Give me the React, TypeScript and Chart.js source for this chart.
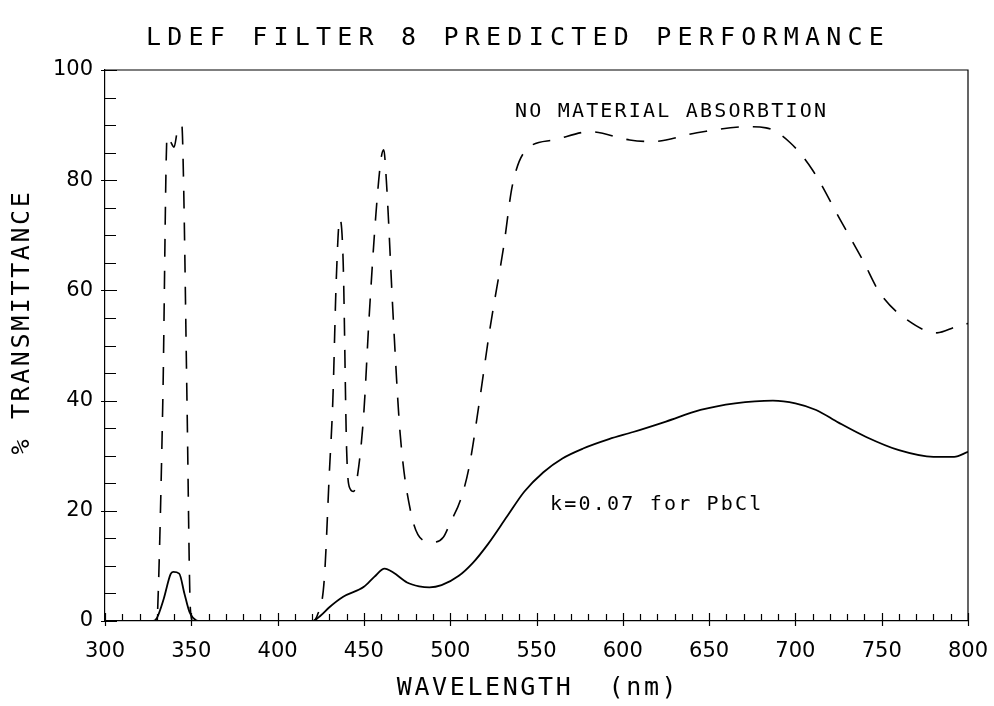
import React, { useEffect, useRef } from "react";
import { Chart, registerables } from "chart.js";

Chart.register(...registerables);

const TITLE = "LDEF FILTER 8 PREDICTED PERFORMANCE";
const X_TITLE = "WAVELENGTH  (nm)";
const Y_TITLE = "% TRANSMITTANCE";
const LABEL_DASHED = "NO MATERIAL ABSORBTION";
const LABEL_SOLID = "k=0.07 for PbCl";

const X_MIN = 300;
const X_MAX = 800;
const X_STEP = 50;
const X_MINOR = 10;
const Y_MIN = 0;
const Y_MAX = 100;
const Y_STEP = 20;
const Y_MINOR = 5;

// Dashed curve: no material absorption
const dashedWavelengths = [
  300, 330, 330.5, 333.5, 336, 338, 340, 342, 344.5, 345.5, 347.5, 349.5, 351,
  420, 423, 427, 430, 432, 434, 436, 438, 440, 442, 444, 447, 450, 453, 457, 460, 461.5,
  463, 467, 471, 477, 484, 490, 496, 500, 506, 511, 517, 523, 531, 536, 544, 560, 581,
  604, 617, 643, 672, 683, 697, 710, 726, 739, 749, 765, 782, 793, 800,
];
const dashedValues = [
  0, 0, 2, 40, 88, 87, 86, 89, 90, 80, 40, 2, 0,
  0, 1, 7.4, 27, 40, 62, 73, 65, 31, 24, 23.5, 28, 38, 55, 74, 84, 85.5,
  80, 55, 34, 20, 14.7, 14.3, 15.2, 17.8, 22, 28, 40, 53, 68, 79, 85.5, 87.3, 88.8,
  87.3, 87, 88.6, 89.7, 89.5, 86.8, 81.8, 72.8, 65.5, 59.5, 54.6, 52.3, 53.4, 54,
];

// Solid curve: k=0.07 for PbCl
const solidWavelengths = [
  300, 328, 330, 334, 338, 339.5, 343, 346, 349, 353, 355,
  420, 425, 430, 438, 450, 456, 462, 467, 475, 482, 488, 495, 505, 513, 522, 533, 543,
  554, 565, 577, 592, 606, 625, 645, 665, 687, 700, 712, 725, 741, 760, 780, 792, 800,
];
const solidValues = [
  0, 0, 0.5, 4, 8.5, 8.9, 8.6, 5, 1.6, 0.1, 0,
  0, 1, 2.5, 4.4, 6.2, 8, 9.5, 8.8, 7, 6.3, 6.1, 6.5, 8.2, 10.5, 14, 19, 23.5,
  27, 29.5, 31.3, 33, 34.3, 36.2, 38.3, 39.5, 40, 39.5, 38.3, 36, 33.4, 31, 29.8, 29.8, 30.7,
];

const toPoints = (xs: number[], ys: number[]) => xs.map((x, i) => ({ x, y: ys[i] }));

const MONO = '"DejaVu Sans Mono", monospace';

const decorPlugin = {
  id: "decor",
  afterDraw(chart: any) {
    const { ctx, chartArea, scales } = chart;
    const xs = scales.x;
    const ys = scales.y;
    const { left, right, top, bottom } = chartArea;
    ctx.save();
    ctx.strokeStyle = "#000";
    ctx.lineWidth = 1.2;
    // top and right frame
    ctx.beginPath();
    ctx.moveTo(left, top);
    ctx.lineTo(right, top);
    ctx.lineTo(right, bottom);
    ctx.stroke();
    // x ticks (inward minor, crossing major)
    ctx.beginPath();
    for (let v = X_MIN; v <= X_MAX; v += X_MINOR) {
      const px = Math.round(xs.getPixelForValue(v)) + 0.5;
      const major = v % X_STEP === 0;
      ctx.moveTo(px, bottom + (major ? 5 : 0));
      ctx.lineTo(px, bottom - (major ? 8 : 7));
    }
    // y ticks
    for (let v = Y_MIN; v <= Y_MAX; v += Y_MINOR) {
      const py = Math.round(ys.getPixelForValue(v)) + 0.5;
      const major = v % Y_STEP === 0;
      ctx.moveTo(left - (major ? 4 : 0), py);
      ctx.lineTo(left + (major ? 12 : 11), py);
    }
    ctx.stroke();

    ctx.fillStyle = "#000";
    ctx.textBaseline = "middle";
    ctx.textAlign = "center";
    // title
    ctx.font = `25px ${MONO}`;
    (ctx as any).letterSpacing = "6.2px";
    ctx.fillText(TITLE, 518, 38);
    // x title
    ctx.font = `25px ${MONO}`;
    (ctx as any).letterSpacing = "2.6px";
    ctx.fillText(X_TITLE, 538, 688);
    // y title
    ctx.save();
    ctx.translate(22, 322);
    ctx.rotate(-Math.PI / 2);
    ctx.fillText(Y_TITLE, 0, 0);
    ctx.restore();
    // annotations
    ctx.font = `20px ${MONO}`;
    (ctx as any).letterSpacing = "2.2px";
    ctx.textAlign = "left";
    ctx.fillText(LABEL_DASHED, xs.getPixelForValue(537.5), ys.getPixelForValue(92.4));
    ctx.fillText(LABEL_SOLID, xs.getPixelForValue(557.8), ys.getPixelForValue(21));
    ctx.restore();
  },
};

export default function App() {
  const ref = useRef<HTMLCanvasElement | null>(null);
  useEffect(() => {
    if (!ref.current) return;
    const chart = new Chart(ref.current, {
      type: "line",
      data: {
        datasets: [
          {
            label: LABEL_DASHED,
            data: toPoints(dashedWavelengths, dashedValues),
            borderColor: "#000",
            borderWidth: 1.6,
            borderDash: [18, 14],
            pointRadius: 0,
            cubicInterpolationMode: "monotone",
            fill: false,
          },
          {
            label: LABEL_SOLID,
            data: toPoints(solidWavelengths, solidValues),
            borderColor: "#000",
            borderWidth: 1.8,
            pointRadius: 0,
            cubicInterpolationMode: "monotone",
            fill: false,
          },
        ],
      },
      options: {
        animation: false,
        responsive: true,
        maintainAspectRatio: false,
        layout: { padding: { top: 70, right: 26, left: 0, bottom: 0 } },
        plugins: { legend: { display: false }, tooltip: { enabled: false }, title: { display: false } },
        scales: {
          x: {
            type: "linear",
            min: X_MIN,
            max: X_MAX,
            grid: { display: false, drawTicks: false },
            border: { display: true, color: "#000", width: 1.2 },
            ticks: {
              stepSize: X_STEP,
              padding: 18,
              color: "#000",
              font: { family: '"DejaVu Sans", sans-serif', size: 21 },
              maxRotation: 0,
            },
            afterFit: (s: any) => {
              s.height = 85;
              s.paddingLeft = 0;
              s.paddingRight = 0;
            },
          },
          y: {
            type: "linear",
            min: Y_MIN,
            max: Y_MAX,
            grid: { display: false, drawTicks: false },
            border: { display: true, color: "#000", width: 1.2 },
            ticks: {
              stepSize: Y_STEP,
              padding: 12,
              color: "#000",
              font: { family: '"DejaVu Sans", sans-serif', size: 21 },
            },
            afterFit: (s: any) => {
              s.width = 105;
              s.paddingTop = 0;
              s.paddingBottom = 0;
            },
          },
        },
      },
      plugins: [decorPlugin],
    });
    return () => chart.destroy();
  }, []);
  return (
    <div style={{ position: "absolute", left: 0, top: 0, width: 994, height: 706, background: "#fff" }}>
      <canvas ref={ref} />
    </div>
  );
}
